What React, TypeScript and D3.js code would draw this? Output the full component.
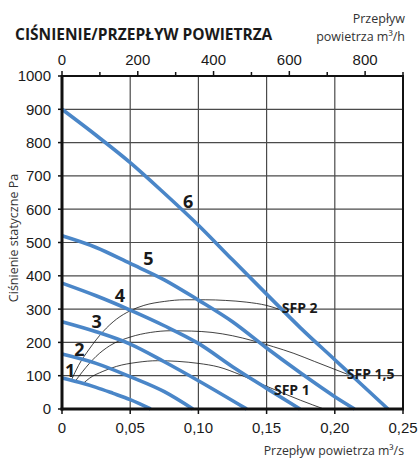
import React, { useEffect, useRef } from 'react';
import * as d3 from 'd3';

// fan curves: [flow m3/s, static pressure Pa]
const curve1 = [[0, 93], [0.0125, 80], [0.025, 65], [0.0375, 47], [0.05, 28], [0.065, 0]];
const curve2 = [[0, 165], [0.025, 137], [0.05, 97], [0.075, 52], [0.096, 0]];
const curve3 = [[0, 262], [0.025, 232], [0.05, 195], [0.075, 142], [0.1, 85], [0.1354, 0]];
const curve4 = [[0, 378], [0.025, 340], [0.05, 297], [0.075, 250], [0.1, 197], [0.125, 127], [0.15, 62], [0.1745, 0]];
const curve5 = [[0, 520], [0.025, 485], [0.05, 437], [0.075, 388], [0.1, 327], [0.125, 262], [0.15, 183], [0.175, 108], [0.2, 37], [0.2145, 0]];
const curve6 = [[0, 900], [0.025, 822], [0.05, 740], [0.075, 648], [0.1, 552], [0.125, 448], [0.15, 345], [0.175, 243], [0.2, 148], [0.22, 72], [0.239, 0]];

// SFP lines
const sfp2 = [[0.007, 88], [0.012, 130], [0.02, 180], [0.03, 232], [0.04, 270], [0.05, 295], [0.06, 311], [0.075, 323], [0.09, 328], [0.105, 328], [0.12, 326], [0.135, 321], [0.15, 311], [0.161, 297]];
const sfp15 = [[0.0095, 82], [0.015, 112], [0.025, 158], [0.035, 190], [0.05, 216], [0.065, 230], [0.08, 235], [0.095, 234], [0.11, 230], [0.125, 220], [0.14, 205], [0.155, 187], [0.17, 167], [0.185, 143], [0.2, 119], [0.2094, 104]];
const sfp1 = [[0.0156, 77], [0.02, 92], [0.03, 113], [0.04, 128], [0.055, 140], [0.07, 145], [0.085, 143], [0.1, 137], [0.115, 126], [0.13, 104], [0.145, 77], [0.16, 51], [0.175, 26], [0.192, 0]];

const fanCurves = [curve1, curve2, curve3, curve4, curve5, curve6];
const fanLabels = ['1', '2', '3', '4', '5', '6'];
const sfpCurves = [sfp1, sfp15, sfp2];
const sfpLabels = ['SFP 1', 'SFP 1,5', 'SFP 2'];

const yTicks = [0, 100, 200, 300, 400, 500, 600, 700, 800, 900, 1000];
const xTicks = [0, 0.05, 0.1, 0.15, 0.2, 0.25];
const xTickLabels = ['0', '0,05', '0,10', '0,15', '0,20', '0,25'];
const topTicks = [0, 100, 200, 300, 400, 500, 600, 700, 800, 900];
const topTickLabels = [0, 200, 400, 600, 800];

const App = () => {
  const ref = useRef(null);

  useEffect(() => {
    const svg = d3.select(ref.current);
    svg.selectAll('*').remove();

    const left = 62, right = 403, top = 76, bottom = 409;
    const x = d3.scaleLinear().domain([0, 0.25]).range([left, right]);
    const xh = d3.scaleLinear().domain([0, 900]).range([left, right]);
    const y = d3.scaleLinear().domain([0, 1000]).range([bottom, top]);

    const numFont = '"Liberation Sans", Arial, sans-serif';
    const txtFont = '"Open Sans", sans-serif';

    // grid
    const grid = svg.append('g').attr('stroke', '#4a4a4a').attr('stroke-width', 1.2);
    grid.selectAll('line.h')
      .data(yTicks.slice(1, -1))
      .join('line')
        .attr('x1', left).attr('x2', right)
        .attr('y1', d => y(d)).attr('y2', d => y(d));
    grid.selectAll('line.v')
      .data(xTicks.slice(1, -1))
      .join('line')
        .attr('class', 'v')
        .attr('y1', top).attr('y2', bottom)
        .attr('x1', d => x(d)).attr('x2', d => x(d));

    // SFP thin lines
    const line = d3.line().x(d => x(d[0])).y(d => y(d[1])).curve(d3.curveMonotoneX);
    svg.append('g')
      .selectAll('path')
      .data(sfpCurves)
      .join('path')
        .attr('d', d => line(d))
        .attr('fill', 'none')
        .attr('stroke', '#111')
        .attr('stroke-width', 0.8);

    // fan curves
    svg.append('g')
      .selectAll('path')
      .data(fanCurves)
      .join('path')
        .attr('d', d => line(d))
        .attr('fill', 'none')
        .attr('stroke', '#4a86c8')
        .attr('stroke-width', 3.6);

    // frame
    svg.append('line').attr('x1', left - 1).attr('x2', right + 1).attr('y1', top).attr('y2', top)
      .attr('stroke', '#111').attr('stroke-width', 2);
    svg.append('line').attr('x1', right).attr('x2', right).attr('y1', top).attr('y2', bottom)
      .attr('stroke', '#111').attr('stroke-width', 2);
    svg.append('line').attr('x1', left).attr('x2', left).attr('y1', top - 1).attr('y2', bottom + 1.5)
      .attr('stroke', '#111').attr('stroke-width', 3);
    svg.append('line').attr('x1', left - 1.5).attr('x2', right + 1).attr('y1', bottom).attr('y2', bottom)
      .attr('stroke', '#111').attr('stroke-width', 3);

    // left axis
    const yAxis = svg.append('g');
    yAxis.selectAll('line')
      .data(yTicks)
      .join('line')
        .attr('x1', left - 4).attr('x2', left)
        .attr('y1', d => y(d)).attr('y2', d => y(d))
        .attr('stroke', '#111').attr('stroke-width', 1.5);
    yAxis.selectAll('text')
      .data(yTicks)
      .join('text')
        .attr('x', left - 11)
        .attr('y', d => y(d))
        .attr('dy', '0.36em')
        .attr('text-anchor', 'end')
        .attr('font-family', numFont)
        .attr('font-size', 15)
        .attr('fill', '#1a1a1a')
        .text(d => d);

    // bottom axis
    const xAxis = svg.append('g');
    xAxis.selectAll('line')
      .data(xTicks)
      .join('line')
        .attr('x1', d => x(d)).attr('x2', d => x(d))
        .attr('y1', bottom).attr('y2', bottom + 5)
        .attr('stroke', '#111').attr('stroke-width', 1.5);
    xAxis.selectAll('text')
      .data(xTicks)
      .join('text')
        .attr('x', d => x(d))
        .attr('y', bottom + 24)
        .attr('text-anchor', 'middle')
        .attr('font-family', numFont)
        .attr('font-size', 15)
        .attr('fill', '#1a1a1a')
        .text((d, i) => xTickLabels[i]);

    // top axis (m3/h)
    const topAxis = svg.append('g');
    topAxis.selectAll('line')
      .data(topTicks)
      .join('line')
        .attr('x1', d => xh(d)).attr('x2', d => xh(d))
        .attr('y1', d => top - (d % 200 === 0 ? 5 : 4)).attr('y2', top)
        .attr('stroke', '#111').attr('stroke-width', 1.5);
    topAxis.selectAll('text')
      .data(topTickLabels)
      .join('text')
        .attr('x', d => xh(d))
        .attr('y', top - 11)
        .attr('text-anchor', 'middle')
        .attr('font-family', numFont)
        .attr('font-size', 15)
        .attr('fill', '#1a1a1a')
        .text(d => d);

    // curve labels
    const fanLabelPos = [[0.0059, 117], [0.0127, 180], [0.0254, 262], [0.0425, 342], [0.0633, 452], [0.0924, 622]];
    svg.append('g')
      .selectAll('text')
      .data(fanLabels)
      .join('text')
        .attr('x', (d, i) => x(fanLabelPos[i][0]))
        .attr('y', (d, i) => y(fanLabelPos[i][1]))
        .attr('dy', '0.36em')
        .attr('text-anchor', 'middle')
        .attr('font-family', txtFont)
        .attr('font-weight', 'bold')
        .attr('font-size', 18)
        .attr('fill', '#1a1a1a')
        .text(d => d);

    const sfpLabelPos = [[0.1554, 57], [0.2088, 105], [0.1611, 303]];
    svg.append('g')
      .selectAll('text')
      .data(sfpLabels)
      .join('text')
        .attr('x', (d, i) => x(sfpLabelPos[i][0]))
        .attr('y', (d, i) => y(sfpLabelPos[i][1]))
        .attr('dy', '0.36em')
        .attr('font-family', txtFont)
        .attr('font-weight', 'bold')
        .attr('font-size', 14)
        .attr('fill', '#1a1a1a')
        .text(d => d);

    // titles
    svg.append('text')
      .attr('x', 15).attr('y', 40)
      .attr('font-family', txtFont)
      .attr('font-weight', 'bold')
      .attr('font-size', 15.5)
      .attr('fill', '#1a1a1a')
      .text('CIŚNIENIE/PRZEPŁYW POWIETRZA');

    svg.append('text')
      .attr('x', 405).attr('y', 23)
      .attr('text-anchor', 'end')
      .attr('font-family', txtFont)
      .attr('font-size', 12.5)
      .attr('fill', '#333')
      .text('Przepływ');
    svg.append('text')
      .attr('x', 405).attr('y', 41)
      .attr('text-anchor', 'end')
      .attr('font-family', txtFont)
      .attr('font-size', 12.5)
      .attr('fill', '#333')
      .text('powietrza m³/h');

    svg.append('text')
      .attr('x', 404).attr('y', 455)
      .attr('text-anchor', 'end')
      .attr('font-family', txtFont)
      .attr('font-size', 12.3)
      .attr('fill', '#333')
      .text('Przepływ powietrza m³/s');

    svg.append('text')
      .attr('transform', 'translate(18,238) rotate(-90)')
      .attr('text-anchor', 'middle')
      .attr('font-family', txtFont)
      .attr('font-size', 12.5)
      .attr('fill', '#333')
      .text('Ciśnienie statyczne Pa');
  }, []);

  return (
    <svg ref={ref} width={420} height={458}
      style={{ position: 'absolute', left: 0, top: 0, background: '#fff' }} />
  );
};

export default App;
